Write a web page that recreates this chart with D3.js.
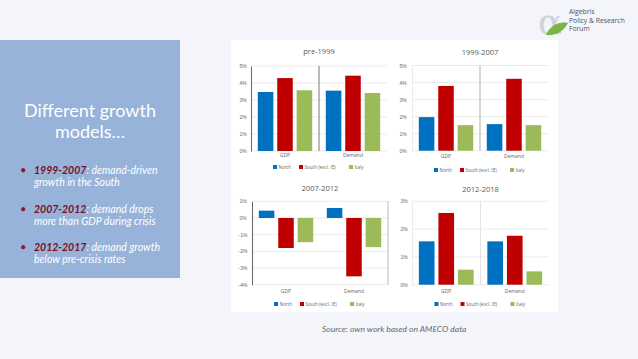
<!DOCTYPE html>
<html><head><meta charset="utf-8">
<script src="https://cdn.jsdelivr.net/npm/d3@7"></script>
<style>html,body{margin:0;padding:0;background:#f3f5fa;}svg{display:block;}</style>
</head><body>
<script>
// ---------- DATA ----------
const categories = ["GDP", "Demand"];
const seriesNames = ["North", "South (excl. IE)", "Italy"];
const seriesColors = ["#0070c0", "#c00000", "#9bbb59"];
const panelTitles = ["pre-1999", "1999-2007", "2007-2012", "2012-2018"];
// values: [series][category] in %
const pre1999 = [[3.47, 3.55], [4.29, 4.43], [3.57, 3.41]];
const y1999_2007 = [[1.97, 1.56], [3.80, 4.22], [1.50, 1.50]];
const y2007_2012 = [[0.44, 0.60], [-1.80, -3.50], [-1.45, -1.75]];
const y2012_2018 = [[1.56, 1.56], [2.58, 1.76], [0.54, 0.48]];
const ticksA = [0, 1, 2, 3, 4, 5];
const ticksB = [0, 1, 2, 3, 4, 5];
const ticksC = [-4, -3, -2, -1, 0, 1];
const ticksD = [0, 1, 2, 3];
const sideTitle = ["Different growth", "models\u2026"];
const bulletYears = ["1999-2007", "2007-2012", "2012-2017"];
const bulletLine1 = [": demand-driven", ": demand drops", ": demand growth"];
const bulletLine2 = ["growth in the South", "more than GDP during crisis", "below pre-crisis rates"];
const sourceText = "Source: own work based on AMECO data";
const logoLines = ["Algebris", "Policy & Research", "Forum"];

// ---------- DRAW ----------
const W = 638, H = 359;
const svg = d3.select("body").append("svg").attr("width", W).attr("height", H);
svg.append("rect").attr("width", W).attr("height", H).attr("fill", "#f3f5fa");

// left panel
svg.append("rect").attr("x", 0).attr("y", 40).attr("width", 180).attr("height", 238).attr("fill", "#97b3da");
const side = svg.append("g").attr("font-family", "Lato, 'Open Sans', sans-serif");
side.selectAll("text.t").data(sideTitle).join("text").attr("class", "t")
  .attr("x", 90).attr("y", (d, i) => 117 + i * 21).attr("text-anchor", "middle")
  .attr("fill", "#fff").attr("font-size", 18).text(d => d);
bulletYears.forEach((yr, i) => {
  const y0 = 174 + i * 38.5;
  side.append("text").attr("x", 20).attr("y", y0).attr("fill", "#8b1a2a").attr("font-size", 11).text("\u2022");
  const t = side.append("text").attr("x", 34).attr("y", y0).attr("font-size", 10.5).attr("font-style", "italic").attr("fill", "#fff");
  t.append("tspan").attr("fill", "#7a0f1e").attr("font-weight", "bold").text(yr);
  t.append("tspan").text(bulletLine1[i]);
  side.append("text").attr("x", 34).attr("y", y0 + 12).attr("font-size", 10.5).attr("font-style", "italic").attr("fill", "#fff").text(bulletLine2[i]);
});

// logo
svg.append("text").attr("x", 538).attr("y", 34).attr("font-family", "DejaVu Serif, serif").attr("font-size", 36).attr("fill", "#cfd3d6").text("\u03b1");
svg.append("path").attr("d", "M546,35 C550,25 560,21 568,23 C564,31 556,36 546,35 Z").attr("fill", "#7cb342");
svg.selectAll("text.logo").data(logoLines).join("text").attr("class", "logo")
  .attr("x", 569).attr("y", (d, i) => 14 + i * 8.7).attr("font-family", "'Open Sans', sans-serif")
  .attr("font-size", 6.8).attr("fill", "#555").text(d => d);

// white chart area
svg.append("rect").attr("x", 231).attr("y", 40).attr("width", 327).attr("height", 272).attr("fill", "#fff");

// source
svg.append("text").attr("x", 322).attr("y", 332).attr("font-family", "Lato, sans-serif").attr("font-style", "italic")
  .attr("font-size", 8.5).attr("fill", "#6a6a6a").text(sourceText);

function panel(cfg) {
  const g = svg.append("g").attr("font-family", "'Open Sans', sans-serif");
  const y = d3.scaleLinear().domain(cfg.domain).range([cfg.bottom, cfg.top]);
  const x0 = d3.scaleBand().domain(categories).range([cfg.left, cfg.right]);
  const x1 = d3.scaleBand().domain(seriesNames).range([0, x0.bandwidth()]).paddingInner(0.2).paddingOuter(0.35);
  // gridlines
  g.selectAll("line.grid").data(cfg.ticks).join("line").attr("class", "grid")
    .attr("x1", cfg.left).attr("x2", cfg.right).attr("y1", d => y(d)).attr("y2", d => y(d))
    .attr("stroke", "#e3e3e3").attr("stroke-width", 0.7);
  // axis
  const ax = d3.axisLeft(y).tickValues(cfg.ticks).tickFormat(d => d + "%").tickSize(0).tickPadding(cfg.left - cfg.labelX);
  const axg = g.append("g").attr("transform", `translate(${cfg.left},0)`).call(ax);
  axg.select(".domain").attr("stroke", cfg.axisColor).attr("stroke-width", cfg.axisWidth);
  axg.selectAll("text").attr("font-size", 5).attr("fill", "#666").attr("text-anchor", "middle");
  // separators
  cfg.seps.forEach(s => {
    const xs = s === "mid" ? cfg.left + x0.step() : cfg.right;
    g.append("line").attr("x1", xs).attr("x2", xs).attr("y1", cfg.top).attr("y2", cfg.bottom)
      .attr("stroke", cfg.sepColor).attr("stroke-width", 0.8);
  });
  // bars
  seriesNames.forEach((s, si) => {
    g.selectAll(null).data(categories).join("rect")
      .attr("x", c => x0(c) + x1(s)).attr("width", x1.bandwidth())
      .attr("y", (c, ci) => y(Math.max(0, cfg.values[si][ci])))
      .attr("height", (c, ci) => Math.abs(y(cfg.values[si][ci]) - y(0)))
      .attr("fill", seriesColors[si]);
  });
  // category labels
  g.selectAll("text.cat").data(categories).join("text").attr("class", "cat")
    .attr("x", c => x0(c) + x0.bandwidth() / 2).attr("y", cfg.catY).attr("text-anchor", "middle")
    .attr("font-size", 5).attr("fill", "#666").text(c => c);
  // title
  g.append("text").attr("x", (cfg.left + cfg.right) / 2).attr("y", cfg.titleY).attr("text-anchor", "middle")
    .attr("font-size", 7.5).attr("fill", "#595959").text(cfg.title);
  // legend
  const widths = [20, 44, 14];
  const total = d3.sum(widths) + 6 * 3;
  let lx = (cfg.left + cfg.right) / 2 - total / 2 + 2;
  seriesNames.forEach((s, i) => {
    g.append("rect").attr("x", lx).attr("y", cfg.legY - 2).attr("width", 4).attr("height", 4).attr("fill", seriesColors[i]);
    g.append("text").attr("x", lx + 5.5).attr("y", cfg.legY + 1.7).attr("font-size", 4.6).attr("fill", "#666").text(s);
    lx += widths[i] + 6;
  });
}

panel({title: panelTitles[0], values: pre1999, ticks: ticksA, domain: [0, 5], left: 251, right: 387, top: 66, bottom: 151,
  labelX: 243, catY: 157, titleY: 54, legY: 167, axisColor: "#555", axisWidth: 0.9, seps: ["mid"], sepColor: "#555"});
panel({title: panelTitles[1], values: y1999_2007, ticks: ticksB, domain: [0, 5], left: 412, right: 548, top: 65.5, bottom: 150.7,
  labelX: 403, catY: 158, titleY: 55, legY: 170, axisColor: "#e3e3e3", axisWidth: 0.7, seps: ["mid"], sepColor: "#999"});
panel({title: panelTitles[2], values: y2007_2012, ticks: ticksC, domain: [-4, 1], left: 252, right: 388, top: 201.3, bottom: 284.7,
  labelX: 243, catY: 293, titleY: 191, legY: 304, axisColor: "#555", axisWidth: 0.9, seps: ["end"], sepColor: "#aaa"});
panel({title: panelTitles[3], values: y2012_2018, ticks: ticksD, domain: [0, 3], left: 412, right: 549, top: 201.3, bottom: 284.7,
  labelX: 404, catY: 293, titleY: 192, legY: 304, axisColor: "#e3e3e3", axisWidth: 0.7, seps: ["mid"], sepColor: "#ddd"});
</script>
</body></html>
